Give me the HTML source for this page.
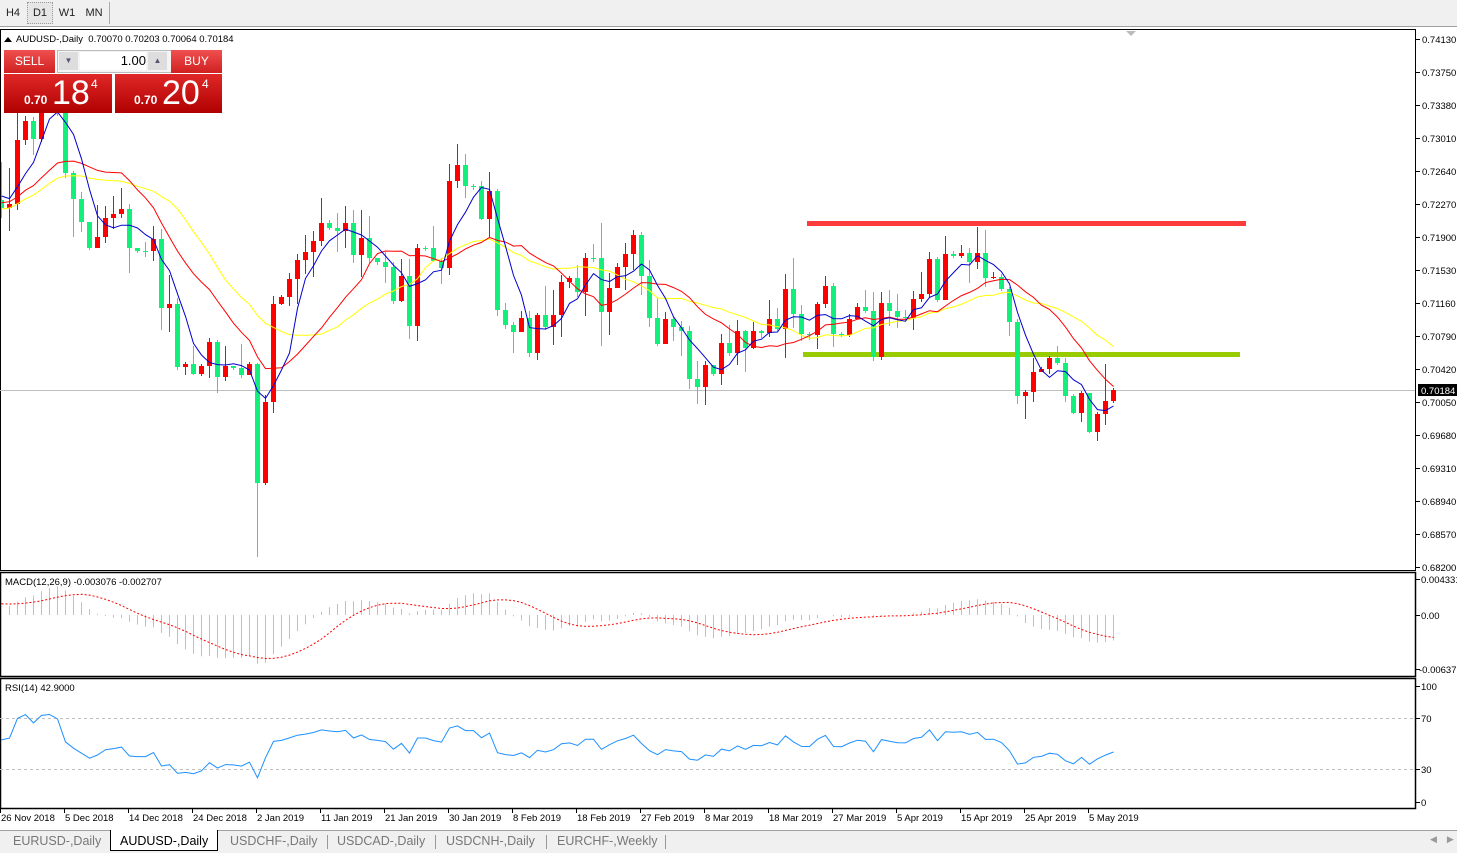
<!DOCTYPE html>
<html><head><meta charset="utf-8">
<style>
html,body{margin:0;padding:0;width:1457px;height:852px;overflow:hidden;background:#fff;font-family:"Liberation Sans",Arial,sans-serif;}
#tb{position:absolute;left:0;top:0;width:1457px;height:26px;background:#f0f0f0;border-bottom:1px solid #a0a0a0;}
.tbb{position:absolute;top:3px;height:20px;line-height:20px;font-size:11px;color:#222;text-align:center;width:24px;}
#bt{position:absolute;left:0;top:830px;width:1457px;height:22px;background:#f0f0f0;border-top:1px solid #a0a0a0;}
.tab{position:absolute;top:3px;font-size:12.5px;color:#777;}
svg{position:absolute;left:0;top:0;}
</style></head><body>
<div id="tb">
 <div class="tbb" style="left:1px">H4</div>
 <div class="tbb" style="left:27px;background:#e6e6e6;border:1px dotted #999;top:2px">D1</div>
 <div class="tbb" style="left:55px">W1</div>
 <div class="tbb" style="left:82px">MN</div>
 <div style="position:absolute;left:109px;top:2px;width:1px;height:22px;background:#aaa"></div>
</div>
<svg id="s" width="1457" height="852" xmlns="http://www.w3.org/2000/svg" style="top:0"></svg>
<div id="bt">
 <div class="tab" style="left:13px">EURUSD-,Daily</div>
 <div style="position:absolute;left:110px;top:-1px;width:106px;height:20px;background:#fff;border:1px solid #000;border-top:none"></div>
 <div class="tab" style="left:120px;color:#000">AUDUSD-,Daily</div>
 <div class="tab" style="left:230px">USDCHF-,Daily</div>
 <div class="tab" style="left:337px">USDCAD-,Daily</div>
 <div class="tab" style="left:446px">USDCNH-,Daily</div>
 <div class="tab" style="left:557px">EURCHF-,Weekly</div>
 <div style="position:absolute;left:327px;top:4px;width:1px;height:14px;background:#999"></div>
 <div style="position:absolute;left:435px;top:4px;width:1px;height:14px;background:#999"></div>
 <div style="position:absolute;left:546px;top:4px;width:1px;height:14px;background:#999"></div>
 <div style="position:absolute;left:665px;top:4px;width:1px;height:14px;background:#999"></div>
 <div style="position:absolute;left:1430px;top:3px;font-size:9px;color:#999">&#9664;&nbsp;&nbsp;&nbsp;&nbsp;&#9654;</div>
</div>
<!-- trade panel -->
<div style="position:absolute;left:4px;top:50px;width:51px;height:23px;background:linear-gradient(#f05050,#d02020);color:#fff;font-size:12px;text-align:center;line-height:22px;">SELL</div>
<div style="position:absolute;left:57px;top:50px;width:113px;height:21px;background:#f4f4f4;border:1px solid #bbb;"></div>
<div style="position:absolute;left:59px;top:52px;width:19px;height:18px;background:#ddd;color:#557;font-size:8px;text-align:center;line-height:18px">&#9660;</div>
<div style="position:absolute;left:80px;top:52px;width:66px;height:18px;background:#fff;font-size:13px;text-align:right;line-height:18px;color:#000">1.00</div>
<div style="position:absolute;left:148px;top:52px;width:19px;height:18px;background:#ddd;color:#557;font-size:8px;text-align:center;line-height:18px">&#9650;</div>
<div style="position:absolute;left:171px;top:50px;width:51px;height:23px;background:linear-gradient(#f05050,#d02020);color:#fff;font-size:12px;text-align:center;line-height:22px;">BUY</div>
<div style="position:absolute;left:4px;top:74px;width:108px;height:39px;background:linear-gradient(#e02828,#b00000);color:#fff;">
 <span style="position:absolute;left:20px;top:19px;font-size:12px;font-weight:bold">0.70</span>
 <span style="position:absolute;left:48px;top:0px;font-size:34px;line-height:38px">18</span>
 <span style="position:absolute;left:87px;top:3px;font-size:12px">4</span>
</div>
<div style="position:absolute;left:115px;top:74px;width:107px;height:39px;background:linear-gradient(#e02828,#b00000);color:#fff;">
 <span style="position:absolute;left:19px;top:19px;font-size:12px;font-weight:bold">0.70</span>
 <span style="position:absolute;left:47px;top:0px;font-size:34px;line-height:38px">20</span>
 <span style="position:absolute;left:87px;top:3px;font-size:12px">4</span>
</div>
<script>
var D=[[208,162,218],[204,168,231],[140,110,210],[121,116,145],[139,117,155],[100,92,142],[95,88,104],[105,92,116],[173,95,178],[199,171,237],
[222,192,232],[248,235,250],[237,205,248],[218,206,243],[214,196,229],[209,188,218],[248,204,273],[251,249,253],[251,242,257],[239,226,261],
[308,229,330],[304,275,332],[367,298,370],[364,362,375],[374,346,375],[366,364,376],[342,338,378],[377,340,393],[366,346,381],[368,366,370],
[375,344,378],[364,362,370],[483,363,557],[402,395,485],[304,296,413],[297,295,305],[279,273,306],[260,254,304],[252,235,274],[241,231,277],
[223,198,246],[228,220,230],[231,213,252],[223,206,248],[255,210,263],[238,210,277],[258,216,263],[262,258,265],[267,252,283],[301,262,304],
[276,259,302],[326,259,339],[248,244,341],[248,246,251],[261,226,262],[268,258,284],[181,164,275],[165,144,188],[186,154,198],[186,184,190],
[219,181,220],[191,172,237],[310,189,316],[325,303,329],[332,322,353],[318,311,330],[353,311,357],[315,313,360],[327,286,330],[315,290,345],
[282,275,337],[278,276,288],[292,265,297],[258,253,316],[258,244,262],[312,223,346],[288,273,335],[267,263,280],[254,243,290],[235,230,270],
[276,232,295],[318,260,327],[344,298,346],[319,312,322],[327,316,341],[331,321,356],[379,326,389],[387,361,404],[365,361,405],[374,370,376],
[343,334,385],[353,325,356],[331,320,365],[348,330,372],[331,322,349],[333,330,338],[319,300,337],[329,308,331],[289,274,358],[314,258,328],
[334,305,341],[335,332,340],[304,302,349],[286,276,308],[334,283,347],[335,332,337],[319,314,337],[307,303,316],[311,290,313],[357,292,361],
[303,292,360],[311,290,326],[317,294,328],[318,310,320],[299,291,330],[294,272,302],[259,252,297],[300,257,302],[254,236,300],[256,251,258],
[253,245,258],[262,248,283],[253,227,269],[278,230,287],[277,272,279],[289,274,291],[322,287,336],[396,319,404],[392,390,419],[372,358,402],
[369,367,371],[358,356,374],[363,346,365],[396,358,402],[413,394,414],[393,391,422],[432,409,433],[414,412,441],[401,364,425],[390,388,403]];
var W=[];for(var k=0;k<40;k++){W.push(268-2*k+(k%2?5:-5));}
var C=W.concat(D.map(function(d){return d[0];}));var N0=W.length;
function P(y){return 0.7413-(y-39)*0.0593/528;}
var s='';
function ln(x1,y1,x2,y2,c,w,extra){s+='<line x1="'+x1+'" y1="'+y1+'" x2="'+x2+'" y2="'+y2+'" stroke="'+c+'" stroke-width="'+(w||1)+'" '+(extra||'')+'/>';}
function tx(x,y,t,sz,c,extra){s+='<text x="'+x+'" y="'+y+'" font-size="'+(sz||10)+'" fill="'+(c||'#000')+'" font-family="Liberation Sans, Arial, sans-serif" '+(extra||'')+'>'+t+'</text>';}
// frames
s+='<rect x="0.5" y="29.5" width="1415" height="541" fill="none" stroke="#000"/>';
s+='<rect x="0.5" y="572.5" width="1415" height="104" fill="none" stroke="#000" stroke-width="1.5"/>';
s+='<rect x="0.5" y="678.5" width="1415" height="130" fill="none" stroke="#000" stroke-width="1.5"/>';
// price axis
var labs=['0.74130','0.73750','0.73380','0.73010','0.72640','0.72270','0.71900','0.71530','0.71160','0.70790','0.70420','0.70050','0.69680','0.69310','0.68940','0.68570','0.68200'];
for(var i=0;i<labs.length;i++){var y=39+33*i;ln(1416,y+.5,1420,y+.5,'#000');tx(1422,y+4,labs[i],9.5);}
// current price line
ln(0,390.5,1415,390.5,'#c0c0c0');
s+='<rect x="1418" y="384" width="39" height="12" fill="#000"/>';tx(1421,394,'0.70184',9.5,'#fff');
s+='<polygon points="1126,31 1136,31 1131,36" fill="#bbb"/>';
// header
s+='<polygon points="4,42 8,37 12,42" fill="#000"/>';
tx(16,42,'AUDUSD-,Daily&#160;&#160;0.70070 0.70203 0.70064 0.70184',9.5);
// support/resistance
s+='<rect x="807" y="221" width="439" height="5" fill="#ff3c3c"/>';
s+='<rect x="803" y="352" width="437" height="5" fill="#99cc00"/>';
// MAs
function sma(n){var r=[];for(var j=0;j<C.length;j++){if(j<n-1){r.push(null);continue;}var a=0;for(var m=j-n+1;m<=j;m++)a+=C[m];r.push(a/n);}return r;}
function poly(arr,col,off){var pts=[];for(var j=N0;j<C.length;j++){if(arr[j]!=null)pts.push((1.5+8*(j-N0)).toFixed(1)+','+arr[j].toFixed(1));}s+='<polyline points="'+pts.join(' ')+'" fill="none" stroke="'+col+'" stroke-width="1"/>';}
// candles
var cs='';
for(var i=0;i<D.length;i++){var cx=1.5+8*i;var o=i==0?200:D[i-1][0];var c=D[i][0],h=D[i][1],l=D[i][2];
 var col=c<o?'#ff0000':'#12ef7a';var t=Math.min(o,c),b=Math.max(o,c);if(b-t<1)b=t+1;
 cs+='<line x1="'+cx+'" y1="'+h+'" x2="'+cx+'" y2="'+l+'" stroke="'+col+'"/>';
 cs+='<rect x="'+(cx-2.5)+'" y="'+t+'" width="5" height="'+(b-t)+'" fill="'+col+'"/>';}
s+='<g clip-path="url(#cm)">';
s+='<clipPath id="cm"><rect x="1" y="30" width="1414" height="540"/></clipPath>';
s+=cs;
var sy=sma(21),sr=sma(14),sb=sma(5);
poly(sy,'#ffff00');poly(sr,'#ff0000');poly(sb,'#0000cc');
s+='</g>';
// MACD
var pr=C.map(P);
function ema(arr,n){var r=[],a=2/(n+1),e=arr[0];for(var j=0;j<arr.length;j++){e=j==0?arr[0]:a*arr[j]+(1-a)*e;r.push(e);}return r;}
var e12=ema(pr,12),e26=ema(pr,26),mac=[];for(var j=0;j<pr.length;j++)mac.push(e12[j]-e26[j]);
var sig=[];for(var j=0;j<mac.length;j++){if(j<8){sig.push(mac[j]);continue;}var a=0;for(var m=j-8;m<=j;m++)a+=mac[m];sig.push(a/9);}
function my(v){return 615-v*8314;}
var sp=[];
for(var j=N0;j<C.length;j++){var x=1.5+8*(j-N0);ln(x,615,x,my(mac[j]).toFixed(1),'#c0c0c0');sp.push(x+','+my(sig[j]).toFixed(1));}
s+='<polyline points="'+sp.join(' ')+'" fill="none" stroke="#ff0000" stroke-width="1" stroke-dasharray="2,2"/>';
tx(5,585,'MACD(12,26,9) -0.003076 -0.002707',9.5);
ln(1416,579.5,1420,579.5,'#000');tx(1421,583,'0.004331',9.5);
ln(1416,615.5,1420,615.5,'#000');tx(1421,619,'0.00',9.5);
ln(1416,669.5,1420,669.5,'#000');tx(1419,673,'-0.00637',9.5);
// RSI
var rs=[],ag=0,al=0;
for(var j=1;j<pr.length;j++){var d=pr[j]-pr[j-1],g=d>0?d:0,lo=d<0?-d:0;if(j<=14){ag+=g/14;al+=lo/14;}else{ag=(ag*13+g)/14;al=(al*13+lo)/14;}rs[j]=al==0?100:100-100/(1+ag/al);}
function ry(v){return 807-1.275*v;}
ln(0,718.5,1415,718.5,'#c0c0c0',1,'stroke-dasharray="3,3"');
ln(0,769.5,1415,769.5,'#c0c0c0',1,'stroke-dasharray="3,3"');
var rp=[];for(var j=N0;j<C.length;j++){rp.push((1.5+8*(j-N0))+','+ry(rs[j]).toFixed(1));}
s+='<polyline points="'+rp.join(' ')+'" fill="none" stroke="#1e90ff" stroke-width="1"/>';
tx(5,691,'RSI(14) 42.9000',9.5);
[[100,686],[70,718],[30,769],[0,802]].forEach(function(q){ln(1416,q[1]+.5,1420,q[1]+.5,'#000');tx(1421,q[1]+4,q[0],9.5);});
// date axis
var dl=['26 Nov 2018','5 Dec 2018','14 Dec 2018','24 Dec 2018','2 Jan 2019','11 Jan 2019','21 Jan 2019','30 Jan 2019','8 Feb 2019','18 Feb 2019','27 Feb 2019','8 Mar 2019','18 Mar 2019','27 Mar 2019','5 Apr 2019','15 Apr 2019','25 Apr 2019','5 May 2019'];
for(var i=0;i<dl.length;i++){var x=64*i;ln(x+.5,809,x+.5,813,'#000');tx(x+1,821,dl[i],9.5);}
document.getElementById('s').innerHTML=s;
</script>
</body></html>
